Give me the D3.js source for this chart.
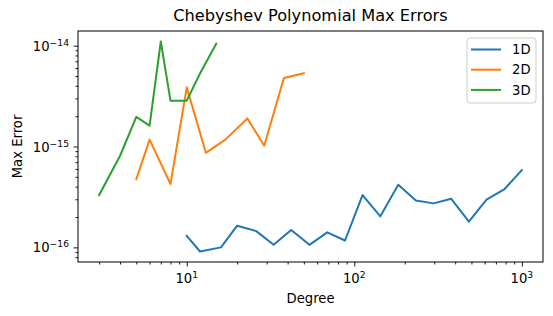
<!DOCTYPE html>
<html>
<head>
<meta charset="utf-8">
<script src="https://cdn.jsdelivr.net/npm/d3@7"></script>
<style>
  body { margin: 0; background: #fff; }
  text { font-family: "DejaVu Sans", sans-serif; fill: #000; }
</style>
</head>
<body>
<script>
// degrees and max errors
var deg1D = [10, 12, 16, 20, 26, 33, 42, 54, 69, 88, 112, 143, 183, 233, 297, 379, 483, 615, 784, 1000];
var err1D = [1.30e-16, 9.1e-17, 1.0e-16, 1.64e-16, 1.45e-16, 1.06e-16, 1.49e-16, 1.06e-16, 1.41e-16, 1.17e-16,
             3.30e-16, 2.03e-16, 4.18e-16, 2.92e-16, 2.73e-16, 3.03e-16, 1.80e-16, 2.97e-16, 3.75e-16, 5.83e-16];
var deg2D = [5, 6, 8, 10, 13, 17, 23, 29, 38, 50];
var err2D = [4.75e-16, 1.17e-15, 4.25e-16, 3.86e-15, 8.66e-16, 1.17e-15, 1.90e-15, 1.02e-15, 4.78e-15, 5.32e-15];
var deg3D = [3, 4, 5, 6, 7, 8, 10, 12, 15];
var err3D = [3.3e-16, 8.1e-16, 1.97e-15, 1.61e-15, 1.10e-14, 2.85e-15, 2.85e-15, 5.3e-15, 1.05e-14];
var seriesNames = ["1D", "2D", "3D"];
var colors = ["#1f77b4", "#ff7f0e", "#2ca02c"];

var W = 553, H = 316;
var m = {left: 78, right: 10, top: 31, bottom: 54};
var fs = "13.2px", sup = "9.2px";

var svg = d3.select("body").append("svg").attr("width", W).attr("height", H);

var series = [
  {name: seriesNames[0], pts: d3.zip(deg1D, err1D)},
  {name: seriesNames[1], pts: d3.zip(deg2D, err2D)},
  {name: seriesNames[2], pts: d3.zip(deg3D, err3D)}
];

// log limits with 5% margin like matplotlib
function logPad(vals) {
  var lo = Math.log10(d3.min(vals)), hi = Math.log10(d3.max(vals));
  var p = (hi - lo) * 0.05;
  return [Math.pow(10, lo - p), Math.pow(10, hi + p)];
}
var allX = deg1D.concat(deg2D, deg3D);
var allY = err1D.concat(err2D, err3D);

var x = d3.scaleLog().domain(logPad(allX)).range([m.left, W - m.right]);
var y = d3.scaleLog().domain(logPad(allY)).range([H - m.bottom, m.top]);

var line = d3.line().x(function(d) { return x(d[0]); }).y(function(d) { return y(d[1]); });

svg.selectAll("path.series")
   .data(series)
   .enter()
   .append("path")
   .attr("class", "series")
   .attr("fill", "none")
   .attr("stroke", function(d, i) { return colors[i]; })
   .attr("stroke-width", 2)
   .attr("stroke-linejoin", "round")
   .attr("stroke-linecap", "square")
   .attr("d", function(d) { return line(d.pts); });

function isMajor(v) {
  var l = Math.log10(v);
  return Math.abs(l - Math.round(l)) < 1e-9;
}

// axes
var xt = x.ticks(), yt = y.ticks();
var xMajor = xt.filter(isMajor), xMinor = xt.filter(function(v) { return !isMajor(v); });
var yMajor = yt.filter(isMajor), yMinor = yt.filter(function(v) { return !isMajor(v); });

var gx = svg.append("g").attr("transform", "translate(0," + (H - m.bottom) + ")");
gx.call(d3.axisBottom(x).tickValues(xMinor).tickSize(2.5).tickFormat(""));
gx.append("g").call(d3.axisBottom(x).tickValues(xMajor).tickSize(4.5).tickFormat(""));
var gy = svg.append("g").attr("transform", "translate(" + m.left + ",0)");
gy.call(d3.axisLeft(y).tickValues(yMinor).tickSize(2.5).tickFormat(""));
gy.append("g").call(d3.axisLeft(y).tickValues(yMajor).tickSize(4.5).tickFormat(""));
svg.selectAll(".domain").remove();
svg.selectAll(".tick line").attr("stroke", "#000").attr("stroke-width", 0.9);

// frame
svg.append("rect")
   .attr("x", m.left).attr("y", m.top)
   .attr("width", W - m.left - m.right).attr("height", H - m.top - m.bottom)
   .attr("fill", "none").attr("stroke", "#000").attr("stroke-width", 1);

// tick labels with superscripts
xMajor.forEach(function(v) {
  var t = svg.append("text")
     .attr("x", x(v)).attr("y", H - m.bottom + 21)
     .attr("text-anchor", "middle")
     .style("font-size", fs);
  t.append("tspan").text("10");
  t.append("tspan").attr("dy", -5).style("font-size", sup).text(Math.round(Math.log10(v)));
});
yMajor.forEach(function(v) {
  var t = svg.append("text")
     .attr("x", m.left - 9).attr("y", y(v) + 5)
     .attr("text-anchor", "end")
     .style("font-size", fs);
  t.append("tspan").text("10");
  t.append("tspan").attr("dy", -5).style("font-size", sup).text("\u2212" + Math.abs(Math.round(Math.log10(v))));
});

// titles
svg.append("text")
   .attr("x", (m.left + W - m.right) / 2).attr("y", 21)
   .attr("text-anchor", "middle")
   .style("font-size", "16.2px")
   .text("Chebyshev Polynomial Max Errors");
svg.append("text")
   .attr("x", (m.left + W - m.right) / 2).attr("y", 303)
   .attr("text-anchor", "middle")
   .style("font-size", fs)
   .text("Degree");
svg.append("text")
   .attr("transform", "translate(21.5," + ((m.top + H - m.bottom) / 2) + ") rotate(-90)")
   .attr("text-anchor", "middle")
   .style("font-size", fs)
   .text("Max Error");

// legend
var lg = svg.append("g").attr("transform", "translate(467,38)");
lg.append("rect")
  .attr("width", 69).attr("height", 65).attr("rx", 3)
  .attr("fill", "#fff").attr("fill-opacity", 0.8)
  .attr("stroke", "#cccccc").attr("stroke-width", 1);
var items = lg.selectAll("g.item")
  .data(seriesNames)
  .enter()
  .append("g")
  .attr("class", "item")
  .attr("transform", function(d, i) { return "translate(0," + (11.5 + i * 20.2) + ")"; });
items.append("line")
  .attr("x1", 4).attr("x2", 34)
  .attr("stroke", function(d, i) { return colors[i]; })
  .attr("stroke-width", 2);
items.append("text")
  .attr("x", 45).attr("y", 4.7)
  .style("font-size", fs)
  .text(function(d) { return d; });
</script>
</body>
</html>
